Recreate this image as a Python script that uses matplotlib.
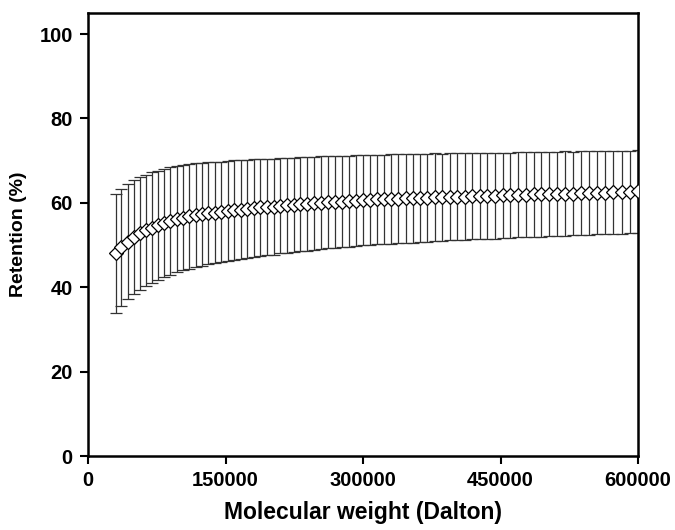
import matplotlib
matplotlib.use("Agg")
import matplotlib.pyplot as plt

# Molecular weight (Da)
mw = [30000, 36500, 43100, 49700, 56400, 63000, 69600, 76400, 83100, 89900,
      96700, 103500, 110400, 117300, 124300, 131200, 138100, 145200, 152200, 159300,
      166400, 173600, 180700, 187900, 195200, 202400, 209800, 217100, 224500, 231800,
      239200, 246700, 254100, 261700, 269200, 276800, 284400, 292100, 299700, 307500,
      315200, 322900, 330800, 338600, 346500, 354400, 362400, 370300, 378400, 386400,
      394600, 402700, 410900, 419100, 427400, 435600, 444000, 452300, 460700, 469100,
      477600, 486000, 494600, 503100, 511800, 520400, 529100, 537800, 546600, 555400,
      564300, 573100, 582100, 591000, 600000]

# Mean retention (%)
retention = [48.0, 49.5, 50.8, 51.9, 52.8, 53.5, 54.1, 54.7, 55.2, 55.7,
             56.1, 56.5, 56.8, 57.1, 57.3, 57.5, 57.7, 57.9, 58.1, 58.3,
             58.4, 58.6, 58.7, 58.9, 59.0, 59.1, 59.3, 59.4, 59.5, 59.7,
             59.8, 59.9, 60.0, 60.1, 60.2, 60.3, 60.4, 60.5, 60.6, 60.7,
             60.8, 60.8, 60.9, 61.0, 61.1, 61.1, 61.2, 61.2, 61.3, 61.3,
             61.4, 61.4, 61.5, 61.6, 61.6, 61.7, 61.7, 61.8, 61.8, 61.9,
             61.9, 62.0, 62.0, 62.1, 62.1, 62.2, 62.2, 62.3, 62.3, 62.4,
             62.4, 62.5, 62.5, 62.6, 62.7]

# Standard deviation (%)
retention_sd = [14.1, 13.9, 13.7, 13.5, 13.4, 13.2, 13.1, 12.9, 12.8, 12.7,
                12.6, 12.5, 12.4, 12.3, 12.2, 12.1, 12.0, 11.9, 11.9, 11.8,
                11.7, 11.6, 11.6, 11.5, 11.4, 11.4, 11.3, 11.2, 11.2, 11.1,
                11.1, 11.0, 11.0, 10.9, 10.9, 10.8, 10.8, 10.8, 10.7, 10.7,
                10.6, 10.6, 10.6, 10.5, 10.5, 10.5, 10.4, 10.4, 10.4, 10.3,
                10.3, 10.3, 10.3, 10.2, 10.2, 10.2, 10.2, 10.1, 10.1, 10.1,
                10.1, 10.0, 10.0, 10.0, 10.0, 10.0, 9.9, 9.9, 9.9, 9.9,
                9.9, 9.9, 9.8, 9.8, 9.8]

x_ticks = [0, 150000, 300000, 450000, 600000]
y_ticks = [0, 20, 40, 60, 80, 100]

plt.rcParams['font.family'] = ['Liberation Sans', 'DejaVu Sans']
plt.rcParams['font.weight'] = 'bold'

fig = plt.figure(figsize=(6.75, 5.3), dpi=100)
ax = fig.add_axes([0.1304, 0.1396, 0.8148, 0.8359])

ax.errorbar(mw, retention, yerr=retention_sd, fmt='none', ecolor='#333333',
            elinewidth=0.9, capsize=4, capthick=0.9, zorder=2)
ax.plot(mw, retention, linestyle='none', marker='D', markersize=7,
        markerfacecolor='white', markeredgecolor='black', markeredgewidth=0.9,
        zorder=3)

ax.set_xlim(0, 600000)
ax.set_ylim(0, 105)
ax.set_xticks(x_ticks)
ax.set_xticklabels([str(t) for t in x_ticks])
ax.set_yticks(y_ticks)

for side in ['left', 'right', 'top', 'bottom']:
    ax.spines[side].set_linewidth(1.8)
ax.tick_params(axis='both', direction='out', length=6, width=1.5,
               labelsize=14.5, pad=5)
for lbl in ax.get_xticklabels() + ax.get_yticklabels():
    lbl.set_fontweight('bold')

ax.set_xlabel('Molecular weight (Dalton)', fontsize=16.5, fontweight='bold', labelpad=8)
ax.set_ylabel('Retention (%)', fontsize=14, fontweight='bold', labelpad=9)

fig.savefig('out.png', dpi=100)
